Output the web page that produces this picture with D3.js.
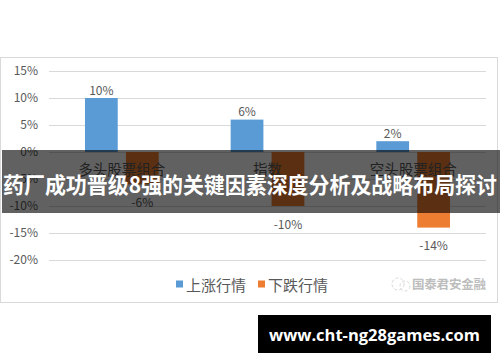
<!DOCTYPE html>
<html><head><meta charset="utf-8">
<script src="https://cdn.jsdelivr.net/npm/d3@7"></script>
<style>html,body{margin:0;padding:0;background:#fff;}svg{display:block;}</style>
</head><body>
<svg id="c" width="500" height="362"></svg>
<script>
const categories = ["多头股票组合", "指数", "空头股票组合"];
const seriesNames = ["上涨行情", "下跌行情"];
const upValues = [10, 6, 2];
const downValues = [-6, -10, -14];
const yTicks = [15, 10, 5, 0, -5, -10, -15, -20];
const colors = ["#5B9BD5", "#ED7D31"];
const bannerTitle = "药厂成功晋级8强的关键因素深度分析及战略布局探讨";
const watermark = "www.cht-ng28games.com";
const logoText = "国泰君安金融";

const font = "'Noto Sans CJK SC', 'Noto Sans', sans-serif";
const svg = d3.select("#c");

// frame
svg.append("rect").attr("x", 0.5).attr("y", 57.5).attr("width", 497).attr("height", 245)
  .attr("fill", "#fff").attr("stroke", "#d9d9d9");

const x0 = d3.scaleBand().domain(categories).range([49, 486]);
const x1 = d3.scaleBand().domain(seriesNames)
  .range([x0.bandwidth() * 0.247, x0.bandwidth() * 0.753]).paddingInner(0.2);
const y = d3.scaleLinear().domain([-20, 15]).range([260, 71]);

// gridlines
svg.append("g").selectAll("line").data(yTicks).join("line")
  .attr("x1", 49).attr("x2", 486)
  .attr("y1", d => Math.round(y(d)) + 0.5).attr("y2", d => Math.round(y(d)) + 0.5)
  .attr("stroke", "#d9d9d9").attr("stroke-width", 1);

// y axis labels
const yAxis = d3.axisLeft(y).tickValues(yTicks).tickSize(0).tickPadding(0)
  .tickFormat(d => d + "%");
const ga = svg.append("g").attr("transform", "translate(38,0)").call(yAxis);
ga.select(".domain").remove();
ga.selectAll("text").attr("font-family", font).attr("font-size", 12).attr("fill", "#595959");

const rows = categories.map((c, i) => ({ cat: c, vals: [upValues[i], downValues[i]] }));

const groups = svg.append("g").selectAll("g").data(rows).join("g")
  .attr("transform", d => `translate(${x0(d.cat)},0)`);

groups.selectAll("rect").data(d => d.vals.map((v, j) => ({ v, s: seriesNames[j], j })))
  .join("rect")
  .attr("x", d => x1(d.s)).attr("width", x1.bandwidth())
  .attr("y", d => y(Math.max(0, d.v))).attr("height", d => Math.abs(y(d.v) - y(0)))
  .attr("fill", d => colors[d.j]);

groups.selectAll("text.lbl").data(d => d.vals.map((v, j) => ({ v, s: seriesNames[j], j })))
  .join("text").attr("class", "lbl")
  .attr("x", d => x1(d.s) + x1.bandwidth() / 2)
  .attr("y", d => d.v >= 0 ? y(d.v) - 9 : y(d.v) + 17)
  .attr("text-anchor", "middle").attr("dominant-baseline", "central")
  .attr("font-family", font).attr("font-size", 12).attr("fill", "#595959")
  .text(d => d.v + "%");

// category labels
svg.append("g").selectAll("text").data(categories).join("text")
  .attr("x", d => x0(d) + x0.bandwidth() / 2).attr("y", 168)
  .attr("text-anchor", "middle").attr("dominant-baseline", "central")
  .attr("font-family", font).attr("font-size", 14.5).attr("fill", "#595959")
  .text(d => d);

// legend
const legX = [176, 258];
const leg = svg.append("g").selectAll("g").data(seriesNames).join("g")
  .attr("transform", (d, i) => `translate(${legX[i]},284)`);
leg.append("rect").attr("x", 0).attr("y", -3.5).attr("width", 7).attr("height", 7)
  .attr("fill", (d, i) => colors[i]);
leg.append("text").attr("x", 10).attr("y", 0).attr("dominant-baseline", "central")
  .attr("font-family", font).attr("font-size", 15).attr("fill", "#595959").text(d => d);

// logo watermark
const lg = svg.append("g").attr("opacity", 0.55);
lg.append("circle").attr("cx", 398).attr("cy", 284).attr("r", 6).attr("fill", "none")
  .attr("stroke", "#bbb").attr("stroke-width", 1).attr("stroke-dasharray", "3,2");
lg.append("circle").attr("cx", 405).attr("cy", 286).attr("r", 5).attr("fill", "none")
  .attr("stroke", "#bbb").attr("stroke-width", 1).attr("stroke-dasharray", "3,2");
lg.append("text").attr("x", 412).attr("y", 283).attr("dominant-baseline", "central")
  .attr("font-family", font).attr("font-size", 12.5).attr("font-weight", "bold")
  .attr("fill", "#888").attr("textLength", 74).text(logoText);

// banner overlay
svg.append("rect").attr("x", 2).attr("y", 150).attr("width", 498).attr("height", 63)
  .attr("fill", "rgba(0,0,0,0.62)");
svg.append("text").attr("x", 250).attr("y", 183).attr("text-anchor", "middle")
  .attr("dominant-baseline", "central")
  .attr("font-family", font).attr("font-size", 22).attr("font-weight", "bold")
  .attr("fill", "#fff").attr("textLength", 494).attr("lengthAdjust", "spacingAndGlyphs")
  .text(bannerTitle);

// bottom watermark
svg.append("rect").attr("x", 258).attr("y", 315).attr("width", 233).attr("height", 38).attr("fill", "#000");
svg.append("text").attr("x", 374.5).attr("y", 335).attr("text-anchor", "middle")
  .attr("dominant-baseline", "central")
  .attr("font-family", "'Open Sans', 'DejaVu Sans', sans-serif").attr("font-size", 16).attr("font-weight", "bold")
  .attr("fill", "#fff").attr("textLength", 211).attr("lengthAdjust", "spacingAndGlyphs")
  .text(watermark);
</script>
</body></html>
